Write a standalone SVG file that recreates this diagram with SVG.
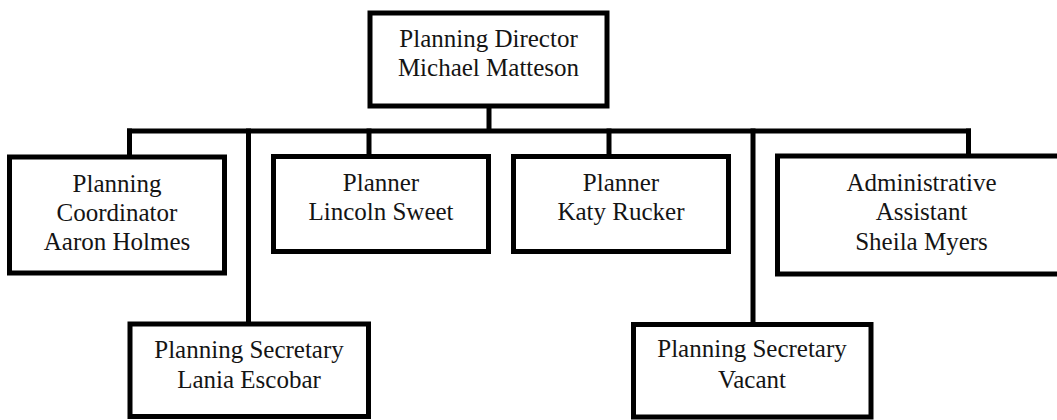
<svg xmlns="http://www.w3.org/2000/svg" width="1057" height="420" viewBox="0 0 1057 420">
  <style>
    .box { fill: #ffffff; stroke: #000000; stroke-width: 5; }
    .wire { fill: none; stroke: #000000; stroke-width: 5; stroke-linecap: butt; }
    .label { font-family: "Liberation Serif", "Times New Roman", serif; font-size: 25px; fill: #141414; text-anchor: middle; }
  </style>
  <rect width="1057" height="420" fill="#ffffff"/>

  <!-- connectors: horizontal bus plus vertical drops -->
  <g id="connectors">
    <line class="wire" x1="489" y1="108" x2="489" y2="133"/>
    <line class="wire" x1="127" y1="131" x2="971" y2="131"/>
    <line class="wire" x1="129.5" y1="128.5" x2="129.5" y2="156"/>
    <line class="wire" x1="248.5" y1="128.5" x2="248.5" y2="323"/>
    <line class="wire" x1="369" y1="128.5" x2="369" y2="156"/>
    <line class="wire" x1="609" y1="128.5" x2="609" y2="156"/>
    <line class="wire" x1="753" y1="128.5" x2="753" y2="323"/>
    <line class="wire" x1="968.5" y1="128.5" x2="968.5" y2="156"/>
  </g>

  <g id="director">
    <rect class="box" x="370" y="13" width="237" height="93"/>
    <text class="label" x="488.5" y="47">Planning Director</text>
    <text class="label" x="488.5" y="76">Michael Matteson</text>
  </g>

  <g id="coordinator">
    <rect class="box" x="9.5" y="157" width="215" height="116"/>
    <text class="label" x="117" y="191.5">Planning</text>
    <text class="label" x="117" y="220.5">Coordinator</text>
    <text class="label" x="117" y="249.5">Aaron Holmes</text>
  </g>

  <g id="planner-sweet">
    <rect class="box" x="273.5" y="156.5" width="215" height="95"/>
    <text class="label" x="381" y="191">Planner</text>
    <text class="label" x="381" y="220">Lincoln Sweet</text>
  </g>

  <g id="planner-rucker">
    <rect class="box" x="513.5" y="156.5" width="215" height="95"/>
    <text class="label" x="621" y="191">Planner</text>
    <text class="label" x="621" y="220">Katy Rucker</text>
  </g>

  <g id="admin-assistant">
    <rect class="box" x="777.5" y="156" width="288" height="118"/>
    <text class="label" x="921.5" y="191">Administrative</text>
    <text class="label" x="921.5" y="220">Assistant</text>
    <text class="label" x="921.5" y="249.5">Sheila Myers</text>
  </g>

  <g id="secretary-escobar">
    <rect class="box" x="130" y="324" width="238.5" height="92.5"/>
    <text class="label" x="249" y="357.5">Planning Secretary</text>
    <text class="label" x="249" y="388">Lania Escobar</text>
  </g>

  <g id="secretary-vacant">
    <rect class="box" x="633.5" y="324.5" width="237.5" height="92.5"/>
    <text class="label" x="752" y="357">Planning Secretary</text>
    <text class="label" x="752" y="388">Vacant</text>
  </g>
</svg>
